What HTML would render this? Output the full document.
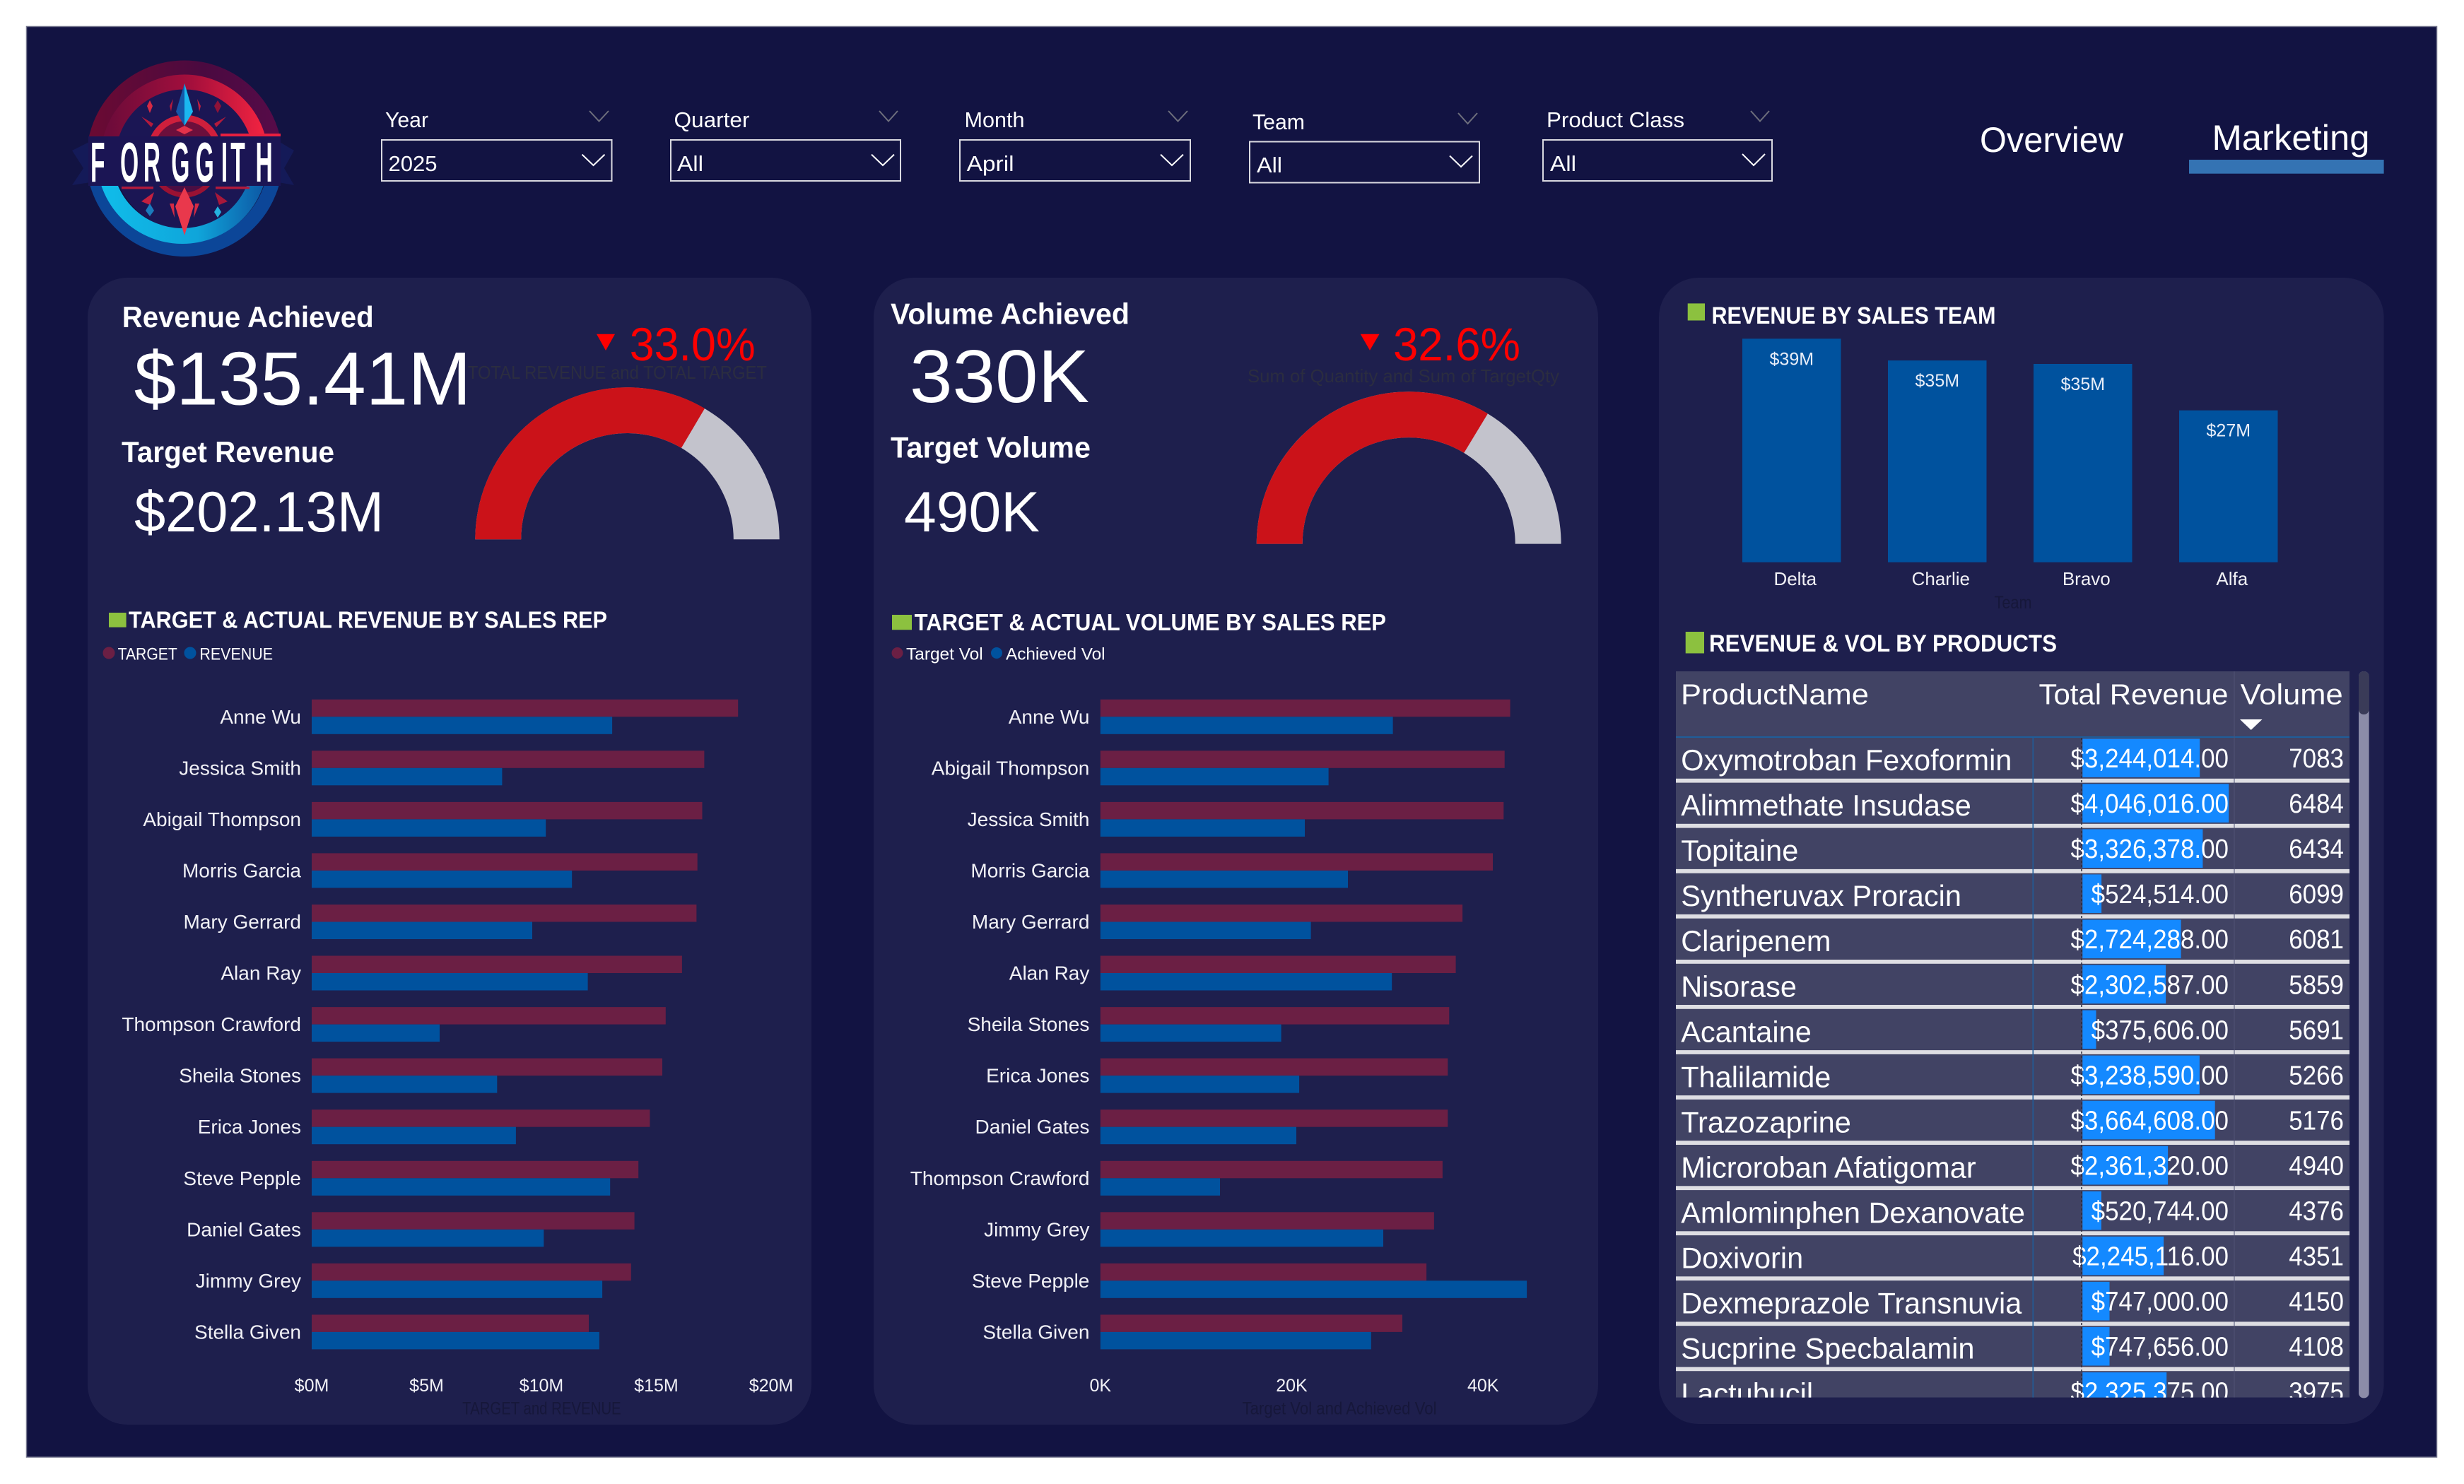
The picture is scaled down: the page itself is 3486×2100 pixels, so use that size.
<!DOCTYPE html>
<html lang="en">
<head>
<meta charset="utf-8">
<title>Forggith Marketing Dashboard</title>
<style>
html,body{margin:0;padding:0;background:#fff;}
svg{display:block;}
text{font-family:"Liberation Sans",sans-serif;fill:#fff;}
.b{font-weight:bold;}
</style>
</head>
<body>
<svg id="dash" xmlns="http://www.w3.org/2000/svg" width="3486" height="2100" viewBox="0 0 3486 2100">
<defs>
<linearGradient id="redBand" x1="0" x2="1" y1="0" y2="0"><stop offset="0" stop-color="#6d0b3a"/><stop offset="0.55" stop-color="#a50f3c"/><stop offset="1" stop-color="#ee2240"/></linearGradient>
<linearGradient id="purpleBand" x1="0" x2="1" y1="0" y2="0"><stop offset="0" stop-color="#6a0a33"/><stop offset="0.6" stop-color="#4a0a40"/><stop offset="1" stop-color="#560b48"/></linearGradient>
<linearGradient id="cyanBand" x1="0" x2="1" y1="0" y2="0"><stop offset="0" stop-color="#10bce9"/><stop offset="0.6" stop-color="#0fa5da"/><stop offset="1" stop-color="#0d5da8"/></linearGradient>
<linearGradient id="blueSpike" x1="0" x2="1" y1="0" y2="0"><stop offset="0.5" stop-color="#1557a8"/><stop offset="0.5" stop-color="#1bb8f0"/></linearGradient>
<clipPath id="logoTop"><rect x="100" y="70" width="330" height="123"/></clipPath>
<clipPath id="logoBottom"><rect x="100" y="263" width="330" height="120"/></clipPath>
<clipPath id="tableClip"><rect x="2371" y="950" width="953" height="1027.6"/></clipPath>
</defs>

<rect x="37.5" y="37.5" width="3410" height="2024.5" fill="#121342" stroke="#77788f" stroke-width="1.5"/>

<g>
  <polygon points="102,213 128,200 128,258 102,262 118,238" fill="#141a58"/>
  <polygon points="416,213 394,200 394,258 416,262 402,238" fill="#141a58"/>
  <circle cx="261" cy="224" r="100" fill="#1b1654"/>
  <circle cx="261" cy="224" r="128" fill="none" stroke="url(#purpleBand)" stroke-width="21" clip-path="url(#logoTop)"/>
  <circle cx="261" cy="224" r="108" fill="none" stroke="url(#redBand)" stroke-width="21" clip-path="url(#logoTop)"/>
  <circle cx="261" cy="224" r="129" fill="none" stroke="#0c4698" stroke-width="20" clip-path="url(#logoBottom)"/>
  <circle cx="258" cy="224" r="110" fill="none" stroke="url(#cyanBand)" stroke-width="22" clip-path="url(#logoBottom)"/>
  <circle cx="261" cy="215" r="48" fill="#6c0f3c" stroke="#cf1f3c" stroke-width="9" clip-path="url(#logoTop)"/>
  <circle cx="261" cy="232" r="44" fill="#4a0e44" stroke="#9a1233" stroke-width="7" clip-path="url(#logoBottom)"/>
  <polygon points="261,118 273,158 261,178 249,158" fill="url(#blueSpike)"/>
  <polygon points="261,333 274,292 261,265 248,292" fill="#e9384c"/>
  <polygon points="261,178 273,184 261,190 249,184" fill="#e4324a"/>
  <polygon points="212,142 216,150 212,160 208,150" fill="#d62a44"/>
  <polygon points="308,142 313,150 308,160 303,150" fill="#8e1238"/>
  <polygon points="200,165 217,175 214,180" fill="#b21a3c"/>
  <polygon points="320,165 303,175 306,180" fill="#b21a3c"/>
  <polygon points="240,150 245,140 242,158" fill="#b21a3c"/>
  <polygon points="284,150 279,140 282,158" fill="#c4203f"/>
  <polygon points="212,290 200,285 218,272" fill="#c4203f"/>
  <polygon points="310,290 322,285 304,272" fill="#a8183a"/>
  <polygon points="240,288 246,288 247,308" fill="#d62a44"/>
  <polygon points="276,288 282,288 274,308" fill="#d62a44"/>
  <polygon points="212,288 218,298 212,306 206,298" fill="#1b7bbd"/>
  <polygon points="308,292 313,300 308,308 303,300" fill="#25b3e0"/>
  <rect x="125" y="193" width="272" height="70" fill="#1b1554"/>
  <rect x="172" y="264" width="45" height="3.5" fill="#b21a3c"/>
  <rect x="305" y="264" width="48" height="3.5" fill="#b21a3c"/>
  <rect x="312" y="189" width="85" height="4" fill="#e8203f"/>
  <text transform="translate(128,257) scale(0.42,1)" x="0 100 178 272 354 440 472 556" y="0" font-size="80" font-weight="bold">FORGGITH</text>
</g>

<g>
  <text x="545" y="180" font-size="31" textLength="61" lengthAdjust="spacingAndGlyphs">Year</text>
  <polyline points="834,157 847.5,171.5 861,157" fill="none" stroke="#6d6e7c" stroke-width="2"/>
  <rect x="540" y="198" width="325.500" height="58" fill="none" stroke="#d9d9e0" stroke-width="2"/>
  <text x="549.500" y="242" font-size="31" textLength="69" lengthAdjust="spacingAndGlyphs">2025</text>
  <polyline points="823.500,218.600 839.500,234 855.500,218.600" fill="none" stroke="#fff" stroke-width="2"/>
</g>
<g>
  <text x="953.500" y="180" font-size="31" textLength="107" lengthAdjust="spacingAndGlyphs">Quarter</text>
  <polyline points="1244,157 1257,171.500 1270,157" fill="none" stroke="#6d6e7c" stroke-width="2"/>
  <rect x="949" y="198" width="325" height="58" fill="none" stroke="#d9d9e0" stroke-width="2"/>
  <text x="958" y="242" font-size="31" textLength="37" lengthAdjust="spacingAndGlyphs">All</text>
  <polyline points="1233,218.600 1249,234 1265,218.600" fill="none" stroke="#fff" stroke-width="2"/>
</g>
<g>
  <text x="1364.500" y="180" font-size="31" textLength="85" lengthAdjust="spacingAndGlyphs">Month</text>
  <polyline points="1653,157 1666.500,171.500 1680,157" fill="none" stroke="#6d6e7c" stroke-width="2"/>
  <rect x="1358" y="198" width="326" height="58" fill="none" stroke="#d9d9e0" stroke-width="2"/>
  <text x="1367.600" y="242" font-size="31" textLength="67" lengthAdjust="spacingAndGlyphs">April</text>
  <polyline points="1642,218.600 1658,234 1674,218.600" fill="none" stroke="#fff" stroke-width="2"/>
</g>
<g>
  <text x="1772" y="183" font-size="31" textLength="74" lengthAdjust="spacingAndGlyphs">Team</text>
  <polyline points="2063,160 2076.500,175 2090,160" fill="none" stroke="#6d6e7c" stroke-width="2"/>
  <rect x="1768" y="200.500" width="325" height="58" fill="none" stroke="#d9d9e0" stroke-width="2"/>
  <text x="1778" y="244" font-size="31" textLength="36" lengthAdjust="spacingAndGlyphs">All</text>
  <polyline points="2051,220.500 2067,236 2083,220.500" fill="none" stroke="#fff" stroke-width="2"/>
</g>
<g>
  <text x="2188" y="180" font-size="31" textLength="195" lengthAdjust="spacingAndGlyphs">Product Class</text>
  <polyline points="2477,157 2490,171.500 2503,157" fill="none" stroke="#6d6e7c" stroke-width="2"/>
  <rect x="2183" y="198" width="324" height="58" fill="none" stroke="#d9d9e0" stroke-width="2"/>
  <text x="2193" y="242" font-size="31" textLength="37" lengthAdjust="spacingAndGlyphs">All</text>
  <polyline points="2465,218 2481,234 2497,218" fill="none" stroke="#fff" stroke-width="2"/>
</g>

<text x="2801" y="215" font-size="50" textLength="203" lengthAdjust="spacingAndGlyphs">Overview</text>
<text x="3129.500" y="212" font-size="50" textLength="223" lengthAdjust="spacingAndGlyphs">Marketing</text>
<rect x="3097" y="226" width="275.600" height="19.700" fill="#3473b3"/>

<rect x="124" y="393" width="1024" height="1623" rx="56" ry="56" fill="#1e1f4d"/>
<rect x="1236" y="393" width="1025" height="1623" rx="56" ry="56" fill="#1e1f4d"/>
<rect x="2347" y="393" width="1025.600" height="1622" rx="56" ry="56" fill="#1e1f4d"/>

<text class="b" x="172.700" y="463" font-size="42" textLength="356" lengthAdjust="spacingAndGlyphs">Revenue Achieved</text>
<text x="189.600" y="572.700" font-size="107" textLength="477" lengthAdjust="spacingAndGlyphs">$135.41M</text>
<text class="b" x="172" y="653.800" font-size="42" textLength="301" lengthAdjust="spacingAndGlyphs">Target Revenue</text>
<text x="190" y="752" font-size="81" textLength="353" lengthAdjust="spacingAndGlyphs">$202.13M</text>
<polygon points="844,472.700 870,472.700 857,496" fill="#ff0000"/>
<text x="890.700" y="510" font-size="66" style="fill:#ff0000" textLength="178" lengthAdjust="spacingAndGlyphs">33.0%</text>
<text x="661.700" y="536" font-size="26" style="fill:#2b2d40" textLength="423.300" lengthAdjust="spacingAndGlyphs">TOTAL REVENUE and TOTAL TARGET</text>

<text class="b" x="1260" y="458.700" font-size="42" textLength="338" lengthAdjust="spacingAndGlyphs">Volume Achieved</text>
<text x="1287" y="569" font-size="106" textLength="254" lengthAdjust="spacingAndGlyphs">330K</text>
<text class="b" x="1260" y="647.500" font-size="42" textLength="283" lengthAdjust="spacingAndGlyphs">Target Volume</text>
<text x="1279" y="752" font-size="81" textLength="192" lengthAdjust="spacingAndGlyphs">490K</text>
<polygon points="1924.700,472.800 1951.500,472.800 1938,495.800" fill="#ff0000"/>
<text x="1971" y="510" font-size="66" style="fill:#ff0000" textLength="180" lengthAdjust="spacingAndGlyphs">32.6%</text>
<text x="1765" y="541" font-size="26" style="fill:#2b2d40" textLength="441" lengthAdjust="spacingAndGlyphs">Sum of Quantity and Sum of TargetQty</text>

<g id="revenueGauge"></g>
<g id="volumeGauge"></g>

<rect x="154" y="867" width="24.600" height="20.600" fill="#8cc13f"/>
<text class="b" x="182" y="888.400" font-size="33" textLength="677" lengthAdjust="spacingAndGlyphs">TARGET &amp; ACTUAL REVENUE BY SALES REP</text>
<circle cx="154" cy="924" r="8.500" fill="#6b1f44"/>
<text x="166.600" y="933.400" font-size="24" textLength="84.200" lengthAdjust="spacingAndGlyphs">TARGET</text>
<circle cx="269" cy="924" r="8.500" fill="#00529e"/>
<text x="282.400" y="933.400" font-size="24" textLength="103.600" lengthAdjust="spacingAndGlyphs">REVENUE</text>
<g id="revenueChart"></g>
<text x="766.400" y="2001.400" font-size="25" text-anchor="middle" style="fill:#16173a" textLength="224.500" lengthAdjust="spacingAndGlyphs">TARGET and REVENUE</text>

<rect x="1262" y="870" width="28" height="21.300" fill="#8cc13f"/>
<text class="b" x="1293.600" y="891.800" font-size="33" textLength="667.400" lengthAdjust="spacingAndGlyphs">TARGET &amp; ACTUAL VOLUME BY SALES REP</text>
<circle cx="1269.500" cy="924" r="8" fill="#6b1f44"/>
<text x="1282" y="933.400" font-size="24" textLength="108.700" lengthAdjust="spacingAndGlyphs">Target Vol</text>
<circle cx="1410" cy="924" r="8" fill="#00529e"/>
<text x="1423" y="933.400" font-size="24" textLength="140.500" lengthAdjust="spacingAndGlyphs">Achieved Vol</text>
<g id="volumeChart"></g>
<text x="1895" y="2001.400" font-size="25" text-anchor="middle" style="fill:#16173a" textLength="275" lengthAdjust="spacingAndGlyphs">Target Vol and Achieved Vol</text>

<rect x="2387.700" y="429.400" width="24.300" height="24.100" fill="#8cc13f"/>
<text class="b" x="2421.500" y="458" font-size="34" textLength="402" lengthAdjust="spacingAndGlyphs">REVENUE BY SALES TEAM</text>
<g id="teamChart"></g>
<text x="2848" y="861" font-size="25" text-anchor="middle" style="fill:#16173a" textLength="53" lengthAdjust="spacingAndGlyphs">Team</text>

<rect x="2384.700" y="894" width="26.300" height="30.500" fill="#8cc13f"/>
<text class="b" x="2418" y="922" font-size="34" textLength="492" lengthAdjust="spacingAndGlyphs">REVENUE &amp; VOL BY PRODUCTS</text>

<g clip-path="url(#tableClip)">
  <rect x="2371" y="950" width="953" height="1027.600" fill="#414364"/>
  <g id="tableBody"></g>
  <rect x="2371" y="1042" width="953" height="2" fill="#1f5d9a"/>
  <rect x="2875.500" y="1044" width="1.500" height="934" fill="#1f5d9a"/>
  <rect x="3160.500" y="950" width="1" height="1028" fill="#4f5175"/>
  <text x="2378" y="996.400" font-size="41" textLength="266" lengthAdjust="spacingAndGlyphs">ProductName</text>
  <text x="2884.500" y="996.400" font-size="41" textLength="268" lengthAdjust="spacingAndGlyphs">Total Revenue</text>
  <text x="3169.700" y="996.400" font-size="41" textLength="145" lengthAdjust="spacingAndGlyphs">Volume</text>
  <polygon points="3169,1018 3200.500,1018 3184.700,1033" fill="#fff"/>
</g>
<rect x="3337" y="950" width="14.600" height="1028.400" rx="7" ry="7" fill="#8c8ca8"/>
<rect x="3337" y="950" width="14.600" height="61" rx="7" ry="7" fill="#3a3b58"/>
</svg>

<script>
// ---- chart data ----
const gaugeRevenueActual = 135.41;
const gaugeRevenueTarget = 202.13;
const gaugeVolumeActual = 330;
const gaugeVolumeTarget = 490;

const revenueReps = ["Anne Wu","Jessica Smith","Abigail Thompson","Morris Garcia","Mary Gerrard","Alan Ray","Thompson Crawford","Sheila Stones","Erica Jones","Steve Pepple","Daniel Gates","Jimmy Grey","Stella Given"];
const revenueTargets = [18.56,17.09,17.0,16.79,16.75,16.12,15.41,15.26,14.72,14.22,14.05,13.9,12.06];
const revenueActuals = [13.08,8.29,10.19,11.33,9.6,12.02,5.57,8.07,8.89,12.99,10.1,12.65,12.52];
const revenueTicks = [0,5,10,15,20];
const revenueTickLabels = ["$0M","$5M","$10M","$15M","$20M"];

const volumeReps = ["Anne Wu","Abigail Thompson","Jessica Smith","Morris Garcia","Mary Gerrard","Alan Ray","Sheila Stones","Erica Jones","Daniel Gates","Thompson Crawford","Jimmy Grey","Steve Pepple","Stella Given"];
const volumeTargets = [42.84,42.25,42.15,41.02,37.85,37.15,36.46,36.31,36.31,35.77,34.88,34.08,31.56];
const volumeActuals = [30.57,23.85,21.37,25.87,22.0,30.47,18.9,20.78,20.48,12.5,29.57,44.57,28.3];
const volumeTicks = [0,20,40];
const volumeTickLabels = ["0K","20K","40K"];

const teamNames = ["Delta","Charlie","Bravo","Alfa"];
const teamRevenue = [39.0,35.2,34.6,26.5];
const teamValueLabels = ["$39M","$35M","$35M","$27M"];

const productNames = ["Oxymotroban Fexoformin","Alimmethate Insudase","Topitaine","Syntheruvax Proracin","Claripenem","Nisorase","Acantaine","Thalilamide","Trazozaprine","Microroban Afatigomar","Amlominphen Dexanovate","Doxivorin","Dexmeprazole Transnuvia","Sucprine Specbalamin","Lactubucil"];
const productRevenue = [3244014,4046016,3326378,524514,2724288,2302587,375606,3238590,3664608,2361320,520744,2245116,747000,747656,2325375];
const productVolume = [7083,6484,6434,6099,6081,5859,5691,5266,5176,4940,4376,4351,4150,4108,3975];

// ---- helpers ----
const NS = "http://www.w3.org/2000/svg";
function mk(tag, attrs, parent, txt) {
  const el = document.createElementNS(NS, tag);
  for (const k in attrs) el.setAttribute(k, attrs[k]);
  if (txt !== undefined) el.textContent = txt;
  parent.appendChild(el);
  return el;
}

// ---- gauges ----
function drawGauge(host, cx, cy, R, r, actual, target) {
  const frac = Math.min(1, actual / target);
  const a = Math.PI * (1 - frac);
  const pt = (rad, ang) => (cx + rad * Math.cos(ang)).toFixed(2) + " " + (cy - rad * Math.sin(ang)).toFixed(2);
  const full = mk("path", {d:"M"+pt(R,Math.PI)+" A"+R+" "+R+" 0 0 1 "+pt(R,0)+" L"+pt(r,0)+" A"+r+" "+r+" 0 0 0 "+pt(r,Math.PI)+" Z", fill:"#c3c3cc"}, host);
  
  
  const val = mk("path", {d:"M"+pt(R,Math.PI)+" A"+R+" "+R+" 0 0 1 "+pt(R,a)+" L"+pt(r,a)+" A"+r+" "+r+" 0 0 0 "+pt(r,Math.PI)+" Z", fill:"#cb1219"}, host);
  
  
}
drawGauge(document.getElementById("revenueGauge"), 887.5, 763.3, 215.2, 150.3, gaugeRevenueActual, gaugeRevenueTarget);
drawGauge(document.getElementById("volumeGauge"), 1993.2, 769.6, 215.4, 150.5, gaugeVolumeActual, gaugeVolumeTarget);

// ---- horizontal clustered bars ----
const rowTop = 989.8, rowPitch = 72.55, barH = 24.5;
function drawBars(host, reps, targets, actuals, xScale, labelRight, ticks, tickLabels, targetName, actualName) {
  const x0 = xScale(0);
  reps.forEach((name, i) => {
    const y = rowTop + i * rowPitch;
    const label = mk("text", {x:labelRight, y:(y + barH + 9.5).toFixed(1), "font-size":28, "text-anchor":"end", style:"fill:#f1f1f6"}, host, name);
    
    
    const t = mk("rect", {x:x0, y:y.toFixed(1), width:(xScale(targets[i]) - x0).toFixed(1), height:barH, fill:"#6b1f44"}, host);
    
    
    const a = mk("rect", {x:x0, y:(y + barH).toFixed(1), width:(xScale(actuals[i]) - x0).toFixed(1), height:barH, fill:"#00529e"}, host);
    
    
  });
  ticks.forEach((tk, i) => {
    const tl = mk("text", {x:xScale(tk).toFixed(1), y:1969, "font-size":25, "text-anchor":"middle", style:"fill:#f1f1f6"}, host, tickLabels[i]);
    
    
  });
}
const xRevenue = v => 441 + v * 32.5;
const xVolume = v => 1556.8 + v * 13.535;
drawBars(document.getElementById("revenueChart"), revenueReps, revenueTargets, revenueActuals, xRevenue, 426, revenueTicks, revenueTickLabels, "bar-target-revenue", "bar-actual-revenue");
drawBars(document.getElementById("volumeChart"), volumeReps, volumeTargets, volumeActuals, xVolume, 1541.4, volumeTicks, volumeTickLabels, "bar-target-volume", "bar-achieved-volume");

// ---- team column chart ----
const teamHost = document.getElementById("teamChart");
const teamBase = 795.6, teamPxPerM = 8.11, teamBarW = 139.5, teamStart = 2465, teamStep = 206;
const yTeam = v => teamBase - v * teamPxPerM;
teamNames.forEach((name, i) => {
  const x = teamStart + i * teamStep;
  const top = yTeam(teamRevenue[i]);
  const bar = mk("rect", {x:x, y:top.toFixed(1), width:teamBarW, height:(teamBase - top).toFixed(1), fill:"#00529e"}, teamHost);
  
  
  const val = mk("text", {x:(x + teamBarW / 2).toFixed(1), y:(top + 37).toFixed(1), "font-size":25, "text-anchor":"middle", style:"fill:#e8eef8"}, teamHost, teamValueLabels[i]);
  
  
  const cat = mk("text", {x:(x + teamBarW / 2 + 5).toFixed(1), y:828, "font-size":26, "text-anchor":"middle", style:"fill:#f1f1f6"}, teamHost, name);
  
  
});

// ---- products table ----
const tableHost = document.getElementById("tableBody");
const sepTop0 = 1101.8, sepPitch = 64.05, sepH = 5.8, dataBarX = 2946.3, dataBarPerUnit = 51.14 / 1e6;
const xDataBar = v => dataBarX + v * dataBarPerUnit;
productNames.forEach((name, i) => {
  const sepTop = sepTop0 + i * sepPitch;
  const barTop = sepTop - 56.5;
  const sep = mk("rect", {x:2371, y:sepTop.toFixed(1), width:953, height:sepH, fill:"#dedee3"}, tableHost);
  
  
  const bar = mk("rect", {x:dataBarX, y:barTop.toFixed(1), width:(xDataBar(productRevenue[i]) - dataBarX).toFixed(1), height:54.6, fill:"#1489ff"}, tableHost);
  
  
  const nm = mk("text", {x:2378.2, y:(sepTop - 11.8).toFixed(1), "font-size":41.5}, tableHost, name);
  
  
  const rev = "$" + productRevenue[i].toLocaleString("en-US", {minimumFractionDigits:2, maximumFractionDigits:2});
  const rv = mk("text", {transform:"translate(3153," + (sepTop - 15.8).toFixed(1) + ") scale(0.92,1)", x:0, y:0, "font-size":38, "text-anchor":"end"}, tableHost, rev);
  
  
  const vl = mk("text", {transform:"translate(3316," + (sepTop - 15.8).toFixed(1) + ") scale(0.92,1)", x:0, y:0, "font-size":38, "text-anchor":"end"}, tableHost, String(productVolume[i]));
  
  
});
const dotted = mk("line", {x1:2945, y1:1044, x2:2945, y2:1978, stroke:"#2a2a3a", "stroke-width":1.5, "stroke-dasharray":"3 3"}, tableHost);


</script>
</body>
</html>
